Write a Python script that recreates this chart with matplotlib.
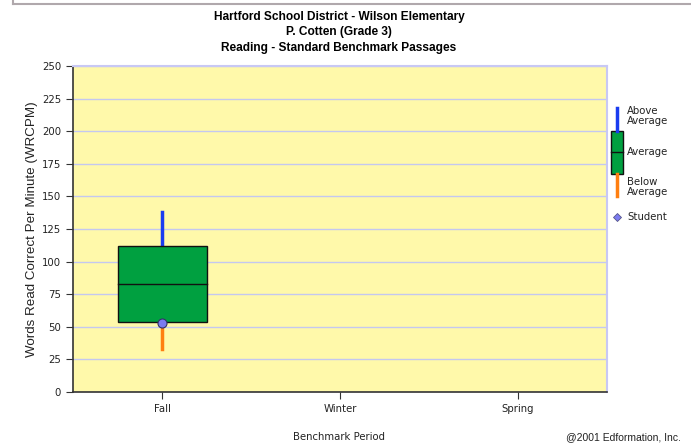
import matplotlib
matplotlib.use("Agg")
import matplotlib.pyplot as plt
from matplotlib.patches import Rectangle
from matplotlib.lines import Line2D

plt.rcParams['font.family'] = ['DejaVu Sans']

periods = ["Fall", "Winter", "Spring"]
whisker_low = [33]
box_low = [54]
median = [83]
box_high = [112]
whisker_high = [138]
student = [53]
yticks = [0, 25, 50, 75, 100, 125, 150, 175, 200, 225, 250]

W, H = 691, 448
fig = plt.figure(figsize=(W / 100, H / 100), dpi=100)
ax = fig.add_axes([73 / W, 1 - 392 / H, (607 - 73) / W, (392 - 66) / H])
ax.set_facecolor('#fff9aa')
ax.set_xlim(0, 3)
ax.set_ylim(0, 250)
ax.set_yticks(yticks)
ax.set_xticks([i + 0.5 for i in range(len(periods))])
ax.set_xticklabels(periods)
ax.tick_params(labelsize=7.3, length=5, width=0.8, color='#333333', labelcolor='#222222')
ax.yaxis.grid(True, color='#c4c8f0', lw=1)
ax.set_axisbelow(True)
for s in ['top', 'right']:
    ax.spines[s].set_color('#c8c8f4')
    ax.spines[s].set_linewidth(1.5)
for s in ['left', 'bottom']:
    ax.spines[s].set_color('#333333')
    ax.spines[s].set_linewidth(1.2)

bw = 0.5
for i in range(len(whisker_low)):
    x = i + 0.5
    ax.plot([x, x], [box_high[i], whisker_high[i]], color='#1a3cf0', lw=2.5, zorder=2)
    ax.plot([x, x], [whisker_low[i], box_low[i]], color='#ff7f10', lw=2.5, zorder=2)
    ax.add_patch(Rectangle((x - bw / 2, box_low[i]), bw, box_high[i] - box_low[i],
                           facecolor='#00a040', edgecolor='#111111', lw=1, zorder=3))
    ax.plot([x - bw / 2, x + bw / 2], [median[i], median[i]], color='#111111', lw=1, zorder=4)
for i, v in enumerate(student):
    ax.plot(i + 0.5, v, 'o', ms=6.5, mfc='#7b7bf0', mec='#333366', mew=0.8, zorder=5)

ax.set_ylabel('Words Read Correct Per Minute (WRCPM)', fontsize=9.6, color='#222222', labelpad=3,
              family='Liberation Sans')

tk = dict(ha='center', va='center', fontsize=8.6, fontweight='bold', family='Liberation Sans')
fig.text(339 / W, 1 - 17 / H, 'Hartford School District - Wilson Elementary', **tk)
fig.text(339 / W, 1 - 32 / H, 'P. Cotten (Grade 3)', **tk)
fig.text(339 / W, 1 - 48 / H, 'Reading - Standard Benchmark Passages', **tk)
fig.text(339 / W, 1 - 437 / H, 'Benchmark Period', ha='center', va='center', fontsize=7.3, color='#222222')
fig.text(681 / W, 1 - 437 / H, '@2001 Edformation, Inc.', ha='right', va='center', fontsize=7.5,
         color='#222222', family='Liberation Sans')

# top frame line
fig.add_artist(Line2D([13 / W, 1], [1 - 4 / H, 1 - 4 / H], color='#b0a8ac', lw=1.5))
fig.add_artist(Line2D([13 / W, 13 / W], [1, 1 - 4 / H], color='#b0a8ac', lw=1.5))

# legend
def fx(px):
    return px / W

def fy(py):
    return 1 - py / H

fig.add_artist(Line2D([fx(617), fx(617)], [fy(108), fy(131)], color='#1a3cf0', lw=2.5))
fig.add_artist(Line2D([fx(617), fx(617)], [fy(174), fy(196)], color='#ff7f10', lw=2.5))
fig.add_artist(Rectangle((fx(611), fy(174)), 12 / W, 43 / H, facecolor='#00a040', edgecolor='#111111',
                         lw=1, transform=fig.transFigure))
fig.add_artist(Line2D([fx(611), fx(623)], [fy(152), fy(152)], color='#111111', lw=1))
fig.add_artist(Line2D([fx(617)], [fy(217)], marker='D', ms=4, mfc='#7b7bf0', mec='#555588', mew=0.6))
lk = dict(fontsize=7.3, color='#222222', va='center', ha='left')
fig.text(fx(627), fy(116), 'Above\nAverage', linespacing=1.0, **lk)
fig.text(fx(627), fy(152), 'Average', **lk)
fig.text(fx(627), fy(187), 'Below\nAverage', linespacing=1.0, **lk)
fig.text(fx(627), fy(217), 'Student', **lk)

fig.savefig('out.png', dpi=100, facecolor='white')
